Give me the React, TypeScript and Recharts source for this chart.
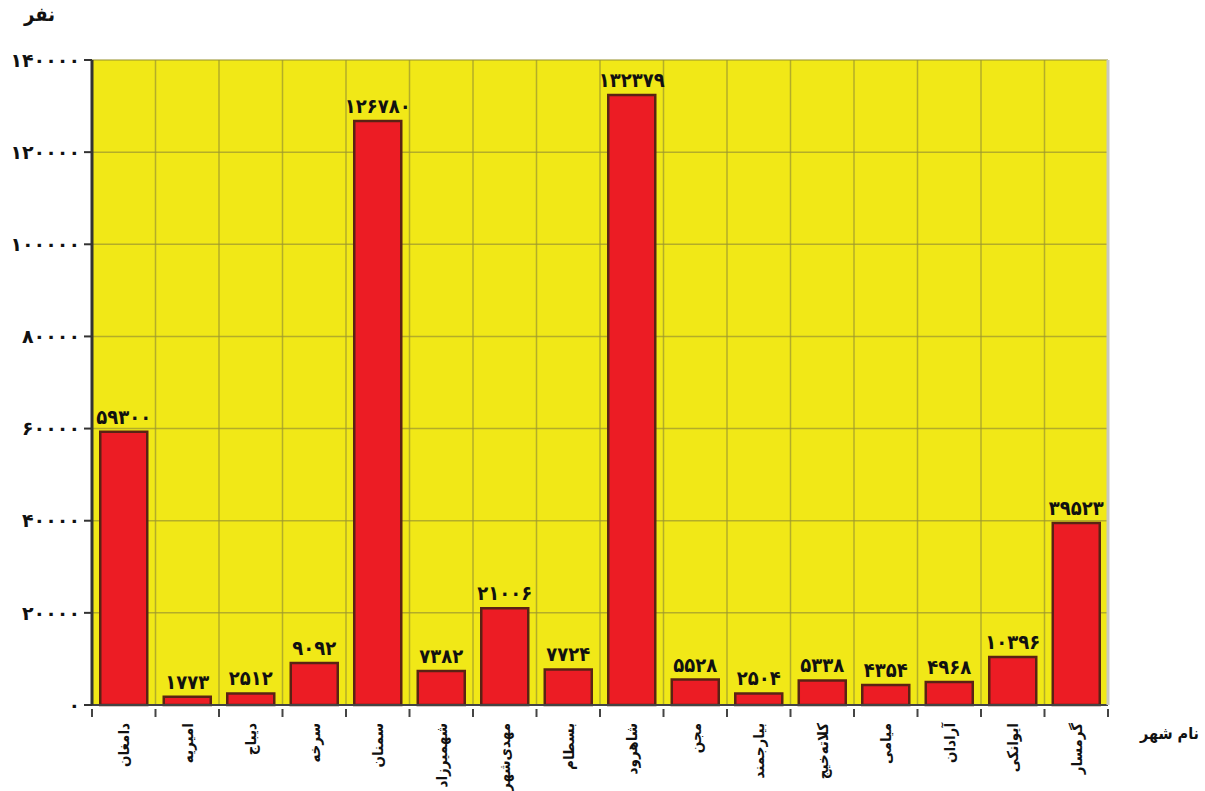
import { BarChart, Bar, XAxis, YAxis, CartesianGrid, LabelList } from 'recharts';

const cities = [
  'دامغان', 'امیریه', 'دیباج', 'سرخه', 'سمنان', 'شهمیرزاد', 'مهدی‌شهر', 'بسطام',
  'شاهرود', 'مجن', 'بیارجمند', 'کلاته‌خیج', 'میامی', 'آرادان', 'ایوانکی', 'گرمسار',
];
const population = [
  59300, 1773, 2512, 9092, 126780, 7382, 21006, 7724,
  132379, 5528, 2504, 5338, 4354, 4968, 10396, 39523,
];
const yTicks = [0, 20000, 40000, 60000, 80000, 100000, 120000, 140000];

const W = 1205;
const H = 791;
const M = { top: 60, right: 0, bottom: 0, left: 0 };
const Y_W = 92;
const R_W = 97;
const X_H = 86;
const band = (W - Y_W - R_W) / cities.length;

const faDigits = '۰۱۲۳۴۵۶۷۸۹';
const toFa = (v: number | string) => String(v).replace(/\d/g, (d) => faDigits[+d]);

const data = cities.map((name, i) => ({ name, value: population[i] }));

const FONT = '"DejaVu Sans Condensed", "DejaVu Sans", sans-serif';
const WIDE = '"DejaVu Sans", sans-serif';

function CityTick(props: any) {
  const { x, y, payload, index } = props;
  return (
    <g transform={`translate(${x},${y})`}>
      <line x1={-band / 2} x2={-band / 2} y1={-4} y2={4} stroke="#444" strokeWidth={2} />
      {index === cities.length - 1 && (
        <line x1={band / 2} x2={band / 2} y1={-4} y2={4} stroke="#444" strokeWidth={2} />
      )}
      <text
        transform="rotate(-90)"
        x={-10}
        y={0}
        dy="0.35em"
        textAnchor="end"
        fontFamily={FONT}
        fontWeight="bold"
        fontSize={15}
        fill="#111"
      >
        {payload.value}
      </text>
    </g>
  );
}

export default function App() {
  return (
    <div style={{ position: 'absolute', left: 0, top: 0, width: W, height: H, background: '#fff' }}>
      <BarChart width={W} height={H} data={data} margin={M} barCategoryGap="13%">
        <CartesianGrid
          fill="#f1e817"
          stroke="#9a9430"
          strokeOpacity={0.7}
          strokeWidth={1.5}
          verticalCoordinatesGenerator={({ offset }: any) =>
            cities.map((_, i) => offset.left + band * i).concat(offset.left + offset.width)
          }
        />
        <XAxis
          dataKey="name"
          interval={0}
          height={X_H}
          tickLine={false}
          axisLine={{ stroke: '#444', strokeWidth: 2 }}
          tick={<CityTick />}
        />
        <YAxis
          width={Y_W}
          domain={[0, 140000]}
          ticks={yTicks}
          interval={0}
          tickSize={8}
          tickMargin={4}
          tickLine={{ stroke: '#333', strokeWidth: 2 }}
          axisLine={{ stroke: '#333', strokeWidth: 3 }}
          tickFormatter={(v: number) => toFa(v)}
          tick={{ fill: '#111', fontSize: 19, fontWeight: 'bold', fontFamily: WIDE, letterSpacing: 1 }}
        />
        <YAxis
          yAxisId="right"
          orientation="right"
          width={R_W}
          tick={false}
          tickLine={false}
          axisLine={{ stroke: '#c8c8c0', strokeWidth: 3 }}
        />
        <Bar
          dataKey="value"
          fill="#ec1c24"
          stroke="#5a2214"
          strokeWidth={2.5}
          isAnimationActive={false}
        >
          <LabelList
            dataKey="value"
            position="top"
            offset={8}
            formatter={(v: any) => toFa(v)}
            fill="#111"
            fontSize={20}
            fontWeight="bold"
            fontFamily={FONT}
          />
        </Bar>
      </BarChart>
      <div
        style={{
          position: 'absolute', left: 24, top: 2, fontFamily: FONT, fontWeight: 'bold',
          fontSize: 20, color: '#111', direction: 'rtl',
        }}
      >
        نفر
      </div>
      <div
        style={{
          position: 'absolute', left: 1140, top: 724, fontFamily: FONT, fontWeight: 'bold',
          fontSize: 16, color: '#111', direction: 'rtl', whiteSpace: 'nowrap',
        }}
      >
        نام شهر
      </div>
    </div>
  );
}
